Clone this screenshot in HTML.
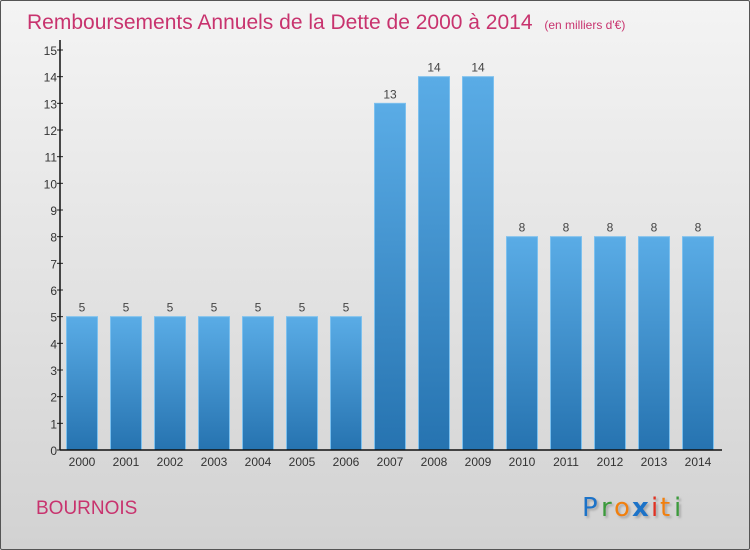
<!DOCTYPE html>
<html><head><meta charset="utf-8"><style>
body{margin:0;width:750px;height:550px;overflow:hidden;font-family:"Liberation Sans","DejaVu Sans",sans-serif}
#wrap{position:absolute;left:0;top:0;width:748px;height:548px;border:1px solid #555;background:linear-gradient(#f4f4f4,#d2d2d2);border-radius:2px}
</style></head><body>
<div id="wrap">
<svg id="svg" width="750" height="550" style="position:absolute;left:-1px;top:-1px">
<defs><linearGradient id="bg" x1="0" y1="0" x2="0" y2="1"><stop offset="0" stop-color="#5aace6"/><stop offset="1" stop-color="#2673b0"/></linearGradient>
<filter id="sh"><feDropShadow dx="2" dy="2" stdDeviation="1" flood-color="#888" flood-opacity="0.6"/></filter></defs>
<text x="27" y="29" font-size="21" fill="#c8336e">Remboursements Annuels de la Dette de 2000 à 2014 <tspan font-size="12" dx="6">(en milliers d'€)</tspan></text>
<text x="36" y="514" font-size="19" fill="#c8336e">BOURNOIS</text>
<g font-size="26" font-family="DejaVu Sans,sans-serif" filter="url(#sh)">
<text x="582" y="516" fill="#1a73c8">P</text><text x="601" y="516" fill="#3a9a3a">r</text><text x="614" y="516" fill="#f08010">o</text><text x="632" y="516" fill="#1a73c8" font-weight="bold">x</text><text x="651" y="516" fill="#e03020">i</text><text x="660" y="516" fill="#f08010">t</text><text x="674" y="516" fill="#3a9a3a">i</text></g>
<g id="chart"></g>
</svg></div>
<script>
const years=["2000","2001","2002","2003","2004","2005","2006","2007","2008","2009","2010","2011","2012","2013","2014"];
const values=[5,5,5,5,5,5,5,13,14,14,8,8,8,8,8];
const labels=["5","5","5","5","5","5","5","13","14","14","8","8","8","8","8"];
const yTicks=[0,1,2,3,4,5,6,7,8,9,10,11,12,13,14,15];
const NS="http://www.w3.org/2000/svg";
const g=document.getElementById('chart');
const y0=450,yTop=50,yMax=15,x0=60;
function ys(v){return y0-(y0-yTop)*v/yMax;}
function xs(i){return 82+44*i;}
function mk(t,a,p){const e=document.createElementNS(NS,t);for(const k in a)e.setAttribute(k,a[k]);(p||g).appendChild(e);return e;}
yTicks.forEach(v=>{
 const t=mk('line',{x1:x0-3,x2:x0+3,y1:ys(v),y2:ys(v),stroke:'#222'});
 
 
 const l=mk('text',{x:x0-3,y:ys(v)+5,'font-size':12,fill:'#333','text-anchor':'end'});
 l.textContent=v;
 
 
});
values.forEach((v,i)=>{
 const b=mk('rect',{x:xs(i)-15.5,y:ys(v),width:31,height:y0-ys(v),fill:'url(#bg)',stroke:'#7cc0ee','stroke-width':1});
 
 
 const vl=mk('text',{x:xs(i),y:ys(v)-5,'font-size':12,fill:'#444','text-anchor':'middle'});
 vl.textContent=labels[i];
 
 
 const xl=mk('text',{x:xs(i),y:466,'font-size':12,fill:'#333','text-anchor':'middle'});
 xl.textContent=years[i];
 
 
});
const ya=mk('line',{x1:x0,x2:x0,y1:40,y2:y0,stroke:'#111','stroke-width':1.5});


const xa=mk('line',{x1:x0,x2:722,y1:y0,y2:y0,stroke:'#111','stroke-width':1.5});


</script>
</body></html>
